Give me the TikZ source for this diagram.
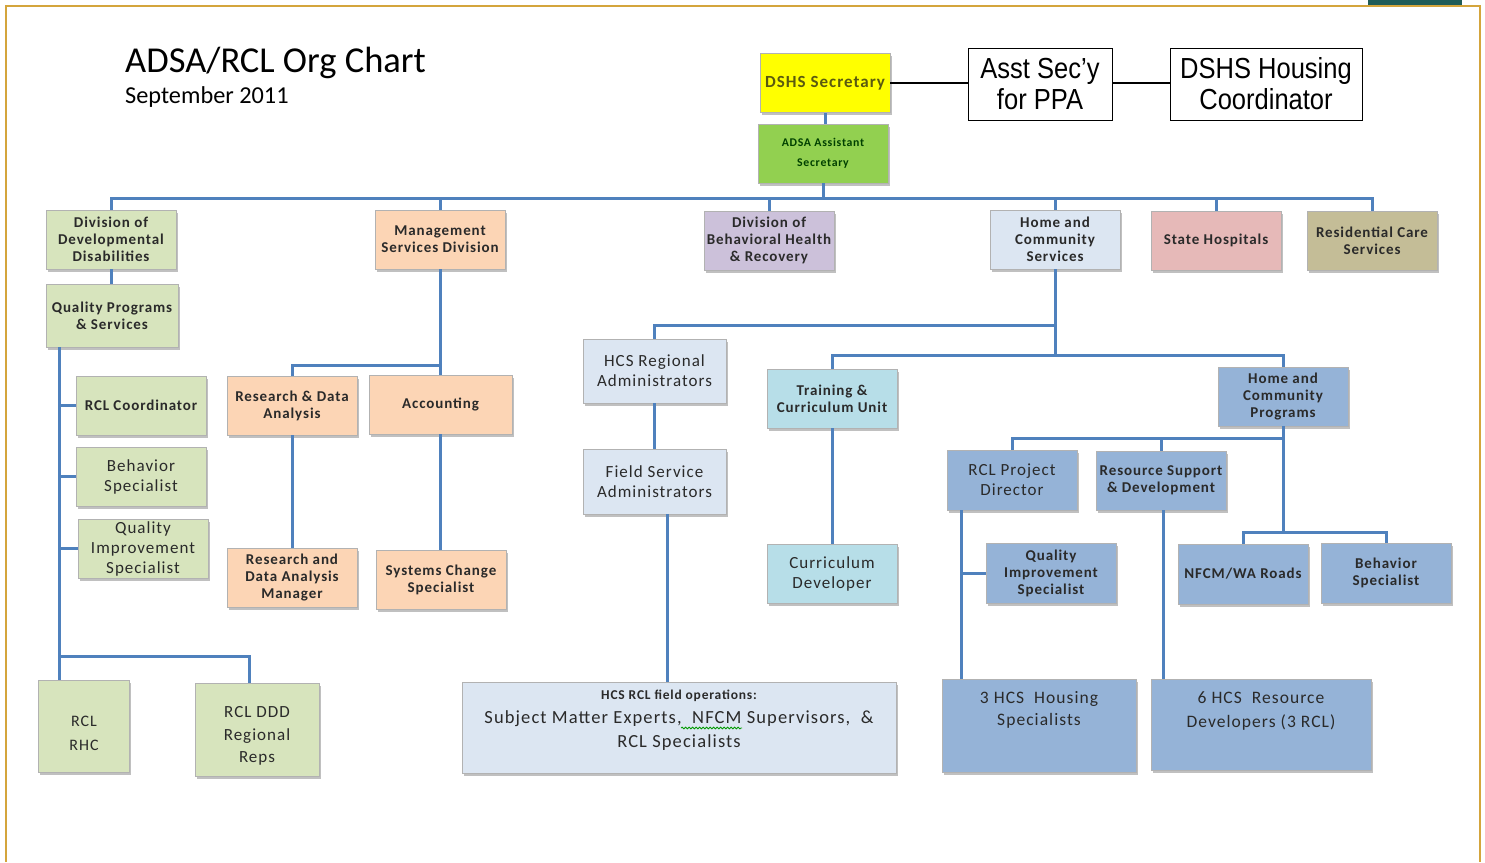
\documentclass[tikz,border=0pt]{standalone}
\usepackage{fontspec}
\setmainfont{Carlito}
\newfontfamily\wide[LetterSpace=6]{Carlito}
\newfontfamily\arialn[FakeStretch=0.88]{Liberation Sans}
\usetikzlibrary{shadows,decorations.pathmorphing}
\definecolor{conn}{HTML}{4F81BD}
\definecolor{ggreen}{HTML}{D7E4BD}
\definecolor{gpeach}{HTML}{FCD5B5}
\definecolor{glav}{HTML}{CCC1DA}
\definecolor{gltblue}{HTML}{DCE6F2}
\definecolor{gpink}{HTML}{E6B9B8}
\definecolor{gtan}{HTML}{C4BD97}
\definecolor{gmblue}{HTML}{95B3D7}
\definecolor{gteal}{HTML}{B7DEE8}
\definecolor{gyellow}{HTML}{FFFF00}
\definecolor{glime}{HTML}{92D050}
\definecolor{framec}{HTML}{D4A53C}
\definecolor{topteal}{HTML}{1F5C57}
\definecolor{txt}{HTML}{2A2A2A}
\definecolor{olivetxt}{HTML}{5A5A10}
\tikzset{
  box/.style={draw=black!30, line width=0.8pt, align=center, text=txt, inner sep=1pt,
    drop shadow={shadow xshift=2pt, shadow yshift=-2.5pt, opacity=0.35, fill=black!70}},
  sz/.style 2 args={minimum width=#1pt, minimum height=#2pt},
  heavy/.style={font=\wide\fontsize{15}{17}\selectfont\bfseries},
  light/.style={font=\wide\fontsize{17}{20}\selectfont},
  plain/.style={align=center, text=txt, inner sep=0pt},
  conn/.style={draw=conn, line width=3pt},
  blk/.style={draw=black, line width=2.2pt},
  wbox/.style={draw=black, line width=1pt, fill=white, align=center, inner sep=1pt,
    font=\arialn\fontsize{29}{31}\selectfont},
}
\begin{document}
\begin{tikzpicture}[x=1pt,y=-1pt]
\useasboundingbox (0,0) rectangle (1485,862);
\fill[white] (0,0) rectangle (1485,862);
% frame
\draw[framec, line width=2.2pt] (6,862) -- (6,6) -- (1480,6) -- (1480,862);
\fill[topteal] (1368,0) rectangle (1462,4.5);
% title
\node[anchor=west, inner sep=0pt, text=black, font=\fontsize{36.5}{40}\selectfont] (title) at (125,63) {ADSA/RCL Org Chart};
\node[anchor=west, inner sep=0pt, text=black, font=\fontsize{24.3}{28}\selectfont] (date) at (125,97) {September 2011};

% top
\node[box, fill=gyellow, sz={130}{59}, text=olivetxt, font=\wide\fontsize{17}{19}\selectfont\bfseries] (sec) at (825,83) {DSHS Secretary};
\node[box, fill=glime, sz={130}{59}, text=black!75!green, font=\wide\fontsize{11.8}{20}\selectfont\bfseries] (adsa) at (823,153.5) {ADSA Assistant\\Secretary};
\node[wbox, sz={144}{72}] (ppa) at (1040,84) {Asst Sec’y\\for PPA};
\node[wbox, sz={192}{72}] (hcoord) at (1266,84) {DSHS Housing\\Coordinator};

% row 1
\node[box, fill=ggreen, sz={130}{59}, heavy] (ddd) at (111,239.5) {Division of\\Developmental\\Disabilities};
\node[box, fill=gpeach, sz={130}{59}, heavy] (msd) at (440,239.5) {Management\\Services Division};
\node[box, fill=glav, sz={130}{59}, heavy] (dbhr) at (769,240.5) {Division of\\Behavioral Health\\\& Recovery};
\node[box, fill=gltblue, sz={130}{59}, heavy] (hcs) at (1055,239.5) {Home and\\Community\\Services};
\node[box, fill=gpink, sz={130}{59}, heavy] (sh) at (1216,240.5) {State Hospitals};
\node[box, fill=gtan, sz={130}{59}, heavy] (rcs) at (1372,240.5) {Residential Care\\Services};

% left column
\node[box, fill=ggreen, sz={132}{63}, heavy] (qps) at (112,315.5) {Quality Programs\\\& Services};
\node[box, fill=ggreen, sz={130}{59}, heavy] (rclc) at (141,405.5) {RCL Coordinator};
\node[box, fill=ggreen, sz={130}{59}, light] (beh1) at (141,476.5) {Behavior\\Specialist};
\node[box, fill=ggreen, sz={130}{59}, light] (qis1) at (143,548.5) {Quality\\Improvement\\Specialist};
\node[box, fill=ggreen, sz={91}{92}] (rhc) at (83.5,726) {};
\node[plain, font=\wide\fontsize{16}{24}\selectfont] (rhct) at (84,733) {RCL\\RHC};
\node[box, fill=ggreen, sz={124}{93}] (ddrr) at (257,729.5) {};
\node[plain, font=\wide\fontsize{17}{22.5}\selectfont] (ddrrt) at (257,736) {RCL DDD\\Regional\\Reps};

% management
\node[box, fill=gpeach, sz={130}{59}, heavy] (rda) at (292,405.5) {Research \& Data\\Analysis};
\node[box, fill=gpeach, sz={143}{59}, heavy] (acct) at (440.5,404.5) {Accounting};
\node[box, fill=gpeach, sz={130}{59}, heavy] (rdam) at (292,577.5) {Research and\\Data Analysis\\Manager};
\node[box, fill=gpeach, sz={130}{59}, heavy] (scs) at (441,579.5) {Systems Change\\Specialist};

% HCS
\node[box, fill=gltblue, sz={143}{64}, light] (hra) at (654.5,371) {HCS Regional\\Administrators};
\node[box, fill=gltblue, sz={143}{65}, light] (fsa) at (654.5,481.5) {Field Service\\Administrators};
\node[box, fill=gltblue, sz={434}{91}] (fops) at (679,727.5) {};
\node[plain, font=\wide\fontsize{18.5}{24}\selectfont] (fopst) at (679,720) {{\fontsize{13.5}{15}\selectfont\bfseries HCS RCL field operations:}\\Subject Matter Experts, \ NFCM Supervisors, \ \&\\RCL Specialists};
\node[box, fill=gteal, sz={130}{59}, heavy] (tcu) at (832,398.5) {Training \&\\Curriculum Unit};
\node[box, fill=gteal, sz={130}{59}, light] (cdev) at (832,573.5) {Curriculum\\Developer};
\node[box, fill=gmblue, sz={130}{59}, heavy] (hcp) at (1283,396.5) {Home and\\Community\\Programs};
\node[box, fill=gmblue, sz={130}{60}, light] (rpd) at (1012,480) {RCL Project\\Director};
\node[box, fill=gmblue, sz={130}{59}, heavy] (rsd) at (1161,480.5) {Resource Support\\\& Development};
\node[box, fill=gmblue, sz={130}{60}, heavy] (qis2) at (1051,573) {Quality\\Improvement\\Specialist};
\node[box, fill=gmblue, sz={130}{60}, heavy] (nfcm) at (1243,574) {NFCM/WA Roads};
\node[box, fill=gmblue, sz={130}{60}, heavy] (beh2) at (1386,573) {Behavior\\Specialist};
\node[box, fill=gmblue, sz={194}{93}] (hhs) at (1039,725.5) {};
\node[plain, font=\wide\fontsize{17.5}{22}\selectfont] (hhst) at (1039,710) {3 HCS \ Housing\\Specialists};
\node[box, fill=gmblue, sz={220}{91}] (hrd) at (1261,724.5) {};
\node[plain, font=\wide\fontsize{17.5}{24}\selectfont] (hrdt) at (1261,711) {6 HCS \ Resource\\Developers (3 RCL)};

% black connectors
\draw[blk] (sec.east) -- (sec.east -| ppa.west);
\draw[blk] (ppa.east |- sec.east) -- (sec.east -| hcoord.west);

% blue connectors
\coordinate (bus) at (823,198);
\draw[conn] (sec.south) -- (sec.south |- adsa.north);
\draw[conn] (adsa.south) -- (bus);
\draw[conn] (ddd.north) |- (bus);
\draw[conn] (rcs.north) |- (bus);
\foreach \n in {msd,dbhr,hcs,sh} \draw[conn] (\n.north) -- (\n.north |- bus);

% left
\draw[conn] (ddd.south) -- (ddd.south |- qps.north);
\coordinate (lspine) at (59,347);
\coordinate (lj) at (59,656);
\draw[conn] (lspine) -- (lspine |- rhc.north);
\draw[conn] (rclc.west) -- (rclc.west -| lspine);
\draw[conn] (beh1.west) -- (beh1.west -| lspine);
\draw[conn] (qis1.west) -- (qis1.west -| lspine);
\draw[conn] (lj) -| ([xshift=-8pt]ddrr.north);

% management
\coordinate (mj) at (440,365);
\draw[conn] (msd.south) -- (msd.south |- acct.north);
\draw[conn] (rda.north) |- (mj);
\draw[conn] (rda.south) -- (rda.south |- rdam.north);
\draw[conn] (acct.south) -- (acct.south |- scs.north);

% HCS
\coordinate (hj1) at (1055,325);
\coordinate (hj2) at (1055,355);
\draw[conn] (hcs.south) -- (hj2);
\draw[conn] (hra.north) |- (hj1);
\draw[conn] (tcu.north) |- (hj2) -| (hcp.north);
\draw[conn] (hra.south) -- (hra.south |- fsa.north);
\draw[conn] ([xshift=12.5pt]fsa.south) -- ([xshift=12.5pt]fsa.south |- fops.north);
\draw[conn] (tcu.south) -- (tcu.south |- cdev.north);

% HCP
\coordinate (pj) at (1283,438);
\coordinate (pj2) at (1283,532);
\draw[conn] (rpd.north) |- (pj);
\draw[conn] (rsd.north) -- (rsd.north |- pj);
\draw[conn] (hcp.south) -- (pj2);
\draw[conn] (nfcm.north) |- (pj2) -| (beh2.north);
\draw[conn] ([xshift=-51pt]rpd.south) -- ([xshift=-51pt]rpd.south |- hhs.north);
\draw[conn] (qis2.west) -- ([xshift=-51pt]rpd.south |- qis2.west);
\draw[conn] ([xshift=2pt]rsd.south) -- ([xshift=2pt]rsd.south |- hrd.north);

% spell-check squiggle
\draw[green!60!black, line width=0.8pt, decorate, decoration={snake, amplitude=0.9pt, segment length=3.5pt}] (681,728) -- (742,728);
\end{tikzpicture}
\end{document}
